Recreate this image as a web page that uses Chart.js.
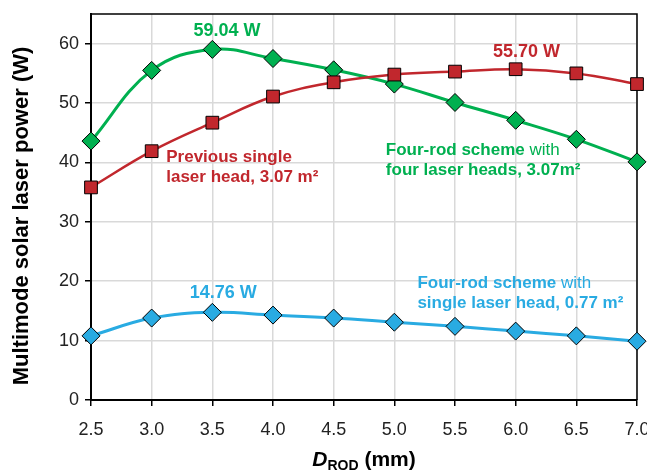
<!DOCTYPE html>
<html>
<head>
<meta charset="utf-8">
<script src="https://cdn.jsdelivr.net/npm/chart.js@4"></script>
<style>
  html, body { margin: 0; padding: 0; background: #fff; }
  #wrap { width: 647px; height: 473px; }
</style>
</head>
<body>
<div id="wrap"><canvas id="chart" width="647" height="473"></canvas></div>
<script>
const rodDiameter = [2.5, 3.0, 3.5, 4.0, 4.5, 5.0, 5.5, 6.0, 6.5, 7.0];
const fourHeads = [43.6, 55.5, 59.04, 57.5, 55.6, 53.2, 50.1, 47.1, 43.9, 40.1];
const previousSingle = [35.8, 41.9, 46.7, 51.1, 53.5, 54.8, 55.3, 55.70, 55.0, 53.2];
const singleHead = [10.8, 13.8, 14.76, 14.3, 13.8, 13.1, 12.4, 11.6, 10.8, 9.9];

const GREEN = '#00b050';
const RED = '#c1272d';
const BLUE = '#29abe2';
const FONT = '"Liberation Sans", Arial, sans-serif';

// text notes, anchored in data units
const notes = [
  { x: 3.62, y: 62.1, align: 'center', color: GREEN, lines: [[['59.04 W', true]]], size: 18 },
  { x: 6.09, y: 58.6, align: 'center', color: RED, lines: [[['55.70 W', true]]], size: 18 },
  { x: 3.59, y: 18.0, align: 'center', color: BLUE, lines: [[['14.76 W', true]]], size: 18 },
  { x: 3.12, y: 40.9, align: 'left', color: RED, size: 17,
    lines: [[['Previous single', true]], [['laser head, 3.07 m\u00b2', true]]] },
  { x: 4.93, y: 42.1, align: 'left', color: GREEN, size: 17,
    lines: [[['Four-rod scheme', true], [' with', false]], [['four laser heads, 3.07m\u00b2', true]]] },
  { x: 5.19, y: 19.7, align: 'left', color: BLUE, size: 17,
    lines: [[['Four-rod scheme', true], [' with', false]], [['single laser head, 0.77 m\u00b2', true]]] }
];

function toPoints(ys) {
  return rodDiameter.map((x, i) => ({ x: x, y: ys[i] }));
}

const decorPlugin = {
  id: 'decor',
  beforeDatasetsDraw(chart) {
    const { ctx, chartArea: a } = chart;
    ctx.save();
    ctx.strokeStyle = '#000';
    ctx.lineWidth = 1.5;
    ctx.beginPath();
    ctx.moveTo(a.left, a.top);
    ctx.lineTo(a.right, a.top);
    ctx.lineTo(a.right, a.bottom);
    ctx.stroke();
    ctx.restore();
  },
  afterDatasetsDraw(chart) {
    const { ctx, scales, chartArea: a } = chart;
    ctx.save();
    ctx.textBaseline = 'middle';
    notes.forEach(n => {
      const px = scales.x.getPixelForValue(n.x);
      let py = scales.y.getPixelForValue(n.y);
      ctx.fillStyle = n.color;
      n.lines.forEach(line => {
        let total = 0;
        line.forEach(([t, bold]) => {
          ctx.font = (bold ? 'bold ' : '') + n.size + 'px ' + FONT;
          total += ctx.measureText(t).width;
        });
        let cx = n.align === 'center' ? px - total / 2 : px;
        ctx.textAlign = 'left';
        line.forEach(([t, bold]) => {
          ctx.font = (bold ? 'bold ' : '') + n.size + 'px ' + FONT;
          ctx.fillText(t, cx, py);
          cx += ctx.measureText(t).width;
        });
        py += 20;
      });
    });

    // y axis title
    ctx.save();
    ctx.translate(22, (a.top + a.bottom) / 2 + 9);
    ctx.rotate(-Math.PI / 2);
    ctx.fillStyle = '#000';
    ctx.font = 'bold 22px ' + FONT;
    ctx.textAlign = 'center';
    ctx.fillText('Multimode solar laser power (W)', 0, 0);
    ctx.restore();

    // x axis title: D_ROD (mm)
    ctx.fillStyle = '#000';
    ctx.textBaseline = 'alphabetic';
    ctx.textAlign = 'left';
    const parts = [
      ['D', 'italic bold 21px ' + FONT, 0],
      ['ROD', 'bold 14px ' + FONT, 4],
      [' (mm)', 'bold 21px ' + FONT, 0]
    ];
    let w = 0;
    parts.forEach(p => { ctx.font = p[1]; w += ctx.measureText(p[0]).width; });
    let x = (a.left + a.right) / 2 - w / 2;
    parts.forEach(p => {
      ctx.font = p[1];
      ctx.fillText(p[0], x, 466 + p[2]);
      x += ctx.measureText(p[0]).width;
    });
    ctx.restore();
  }
};

function series(data, color, style, radius, width) {
  return {
    data: toPoints(data),
    borderColor: color,
    backgroundColor: color,
    borderWidth: width,
    tension: 0.4,
    pointStyle: style,
    pointRadius: radius,
    pointBackgroundColor: color,
    pointBorderColor: '#000',
    pointBorderWidth: 1,
    clip: false
  };
}

new Chart(document.getElementById('chart'), {
  type: 'line',
  data: {
    datasets: [
      series(singleHead, BLUE, 'rectRot', 9, 3),
      series(previousSingle, RED, 'rect', 9, 2.5),
      series(fourHeads, GREEN, 'rectRot', 9, 3)
    ]
  },
  options: {
    responsive: false,
    animation: false,
    layout: { autoPadding: false, padding: { top: 14, right: 10, left: 0, bottom: 0 } },
    plugins: { legend: { display: false }, tooltip: { enabled: false } },
    scales: {
      x: {
        type: 'linear',
        min: 2.5,
        max: 7.0,
        afterFit(s) { s.height = 73; s.paddingLeft = 0; s.paddingRight = 0; },
        ticks: {
          stepSize: 0.5,
          color: '#222',
          padding: 13,
          font: { family: FONT, size: 18 },
          callback: v => v.toFixed(1)
        },
        grid: { color: '#d9d9d9', lineWidth: 1.5, tickLength: 6, tickColor: '#000', tickWidth: 1.5 },
        border: { color: '#000', width: 2 }
      },
      y: {
        min: 0,
        max: 65,
        afterFit(s) { s.width = 91; s.paddingTop = 0; s.paddingBottom = 0; },
        afterBuildTicks(s) { s.ticks = s.ticks.filter(t => t.value <= 60); },
        ticks: {
          stepSize: 10,
          color: '#222',
          padding: 6,
          font: { family: FONT, size: 18 }
        },
        grid: { color: '#d9d9d9', lineWidth: 1.5, tickLength: 6, tickColor: '#000', tickWidth: 1.5 },
        border: { color: '#000', width: 2 }
      }
    }
  },
  plugins: [decorPlugin]
});
</script>
</body>
</html>
